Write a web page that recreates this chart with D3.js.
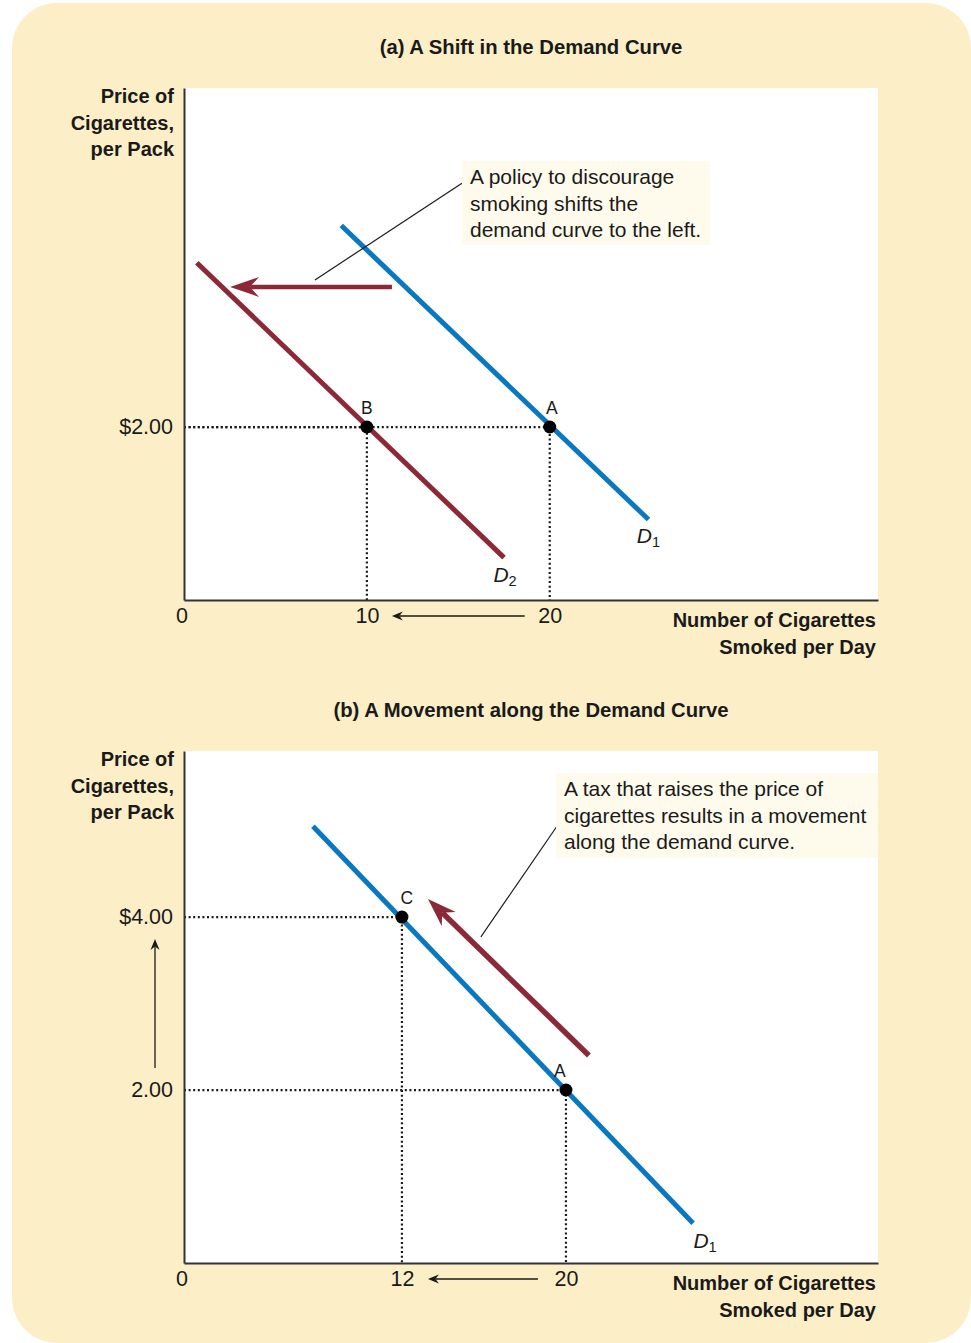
<!DOCTYPE html>
<html><head><meta charset="utf-8">
<script src="https://cdn.jsdelivr.net/npm/d3@7"></script>
<style>body{margin:0;background:#fff;} svg{display:block}</style>
</head><body>
<script>
// ---------- DATA ----------
const titleA = "(a) A Shift in the Demand Curve";
const titleB = "(b) A Movement along the Demand Curve";
const yTitle = ["Price of", "Cigarettes,", "per Pack"];
const xTitle = ["Number of Cigarettes", "Smoked per Day"];
const originLabel = "0";

// panel (a)
const qtyTicksA = [10, 20];
const qtyTickLabelsA = ["10", "20"];
const priceTicksA = [2];
const priceTickLabelsA = ["$2.00"];
const demandA_D1 = [[8.6, 4.33], [25.4, 0.93]];
const demandA_D2 = [[0.7, 3.90], [17.5, 0.49]];
const pointsA = [{name: "B", q: 10, p: 2}, {name: "A", q: 20, p: 2}];
const shiftArrowA = [[11.37, 3.62], [2.52, 3.62]];
const leaderA = [[7.16, 3.70], [15.2, 4.82]];
const noteA = ["A policy to discourage", "smoking shifts the", "demand curve to the left."];
const qtyChangeA = [20, 10];

// panel (b)
const qtyTicksB = [12, 20];
const qtyTickLabelsB = ["12", "20"];
const priceTicksB = [4, 2];
const priceTickLabelsB = ["$4.00", "2.00"];
const demandB_D1 = [[7.66, 5.05], [26.2, 0.46]];
const pointsB = [{name: "C", q: 12, p: 4}, {name: "A", q: 20, p: 2}];
const moveArrowB = [[21.12, 2.40], [13.27, 4.21]];
const leaderB = [[15.85, 3.77], [19.56, 5.05]];
const noteB = ["A tax that raises the price of", "cigarettes results in a movement", "along the demand curve."];
const qtyChangeB = [20, 12];
const priceChangeB = [2, 4];

// ---------- STYLE ----------
const W = 971, H = 1343;
const BG = "#fcefc8", NOTE = "#fefaec", BLUE = "#0a77c2", RED = "#8b2939", INK = "#1a1a1a";
const FONT = "'Liberation Sans', Arial, sans-serif";

const svg = d3.select("body").append("svg").attr("width", W).attr("height", H)
  .style("font-family", FONT);

svg.append("rect").attr("x", 12).attr("y", 3).attr("width", 959).attr("height", 1340)
  .attr("rx", 45).attr("fill", BG);

const line = d3.line();

function arrowHead(g, tip, angle, L, Wd, color) {
  const path = `M0,0 L${-L},${-Wd} L${-L*0.68},0 L${-L},${Wd} Z`;
  g.append("path").attr("d", path).attr("fill", color)
    .attr("transform", `translate(${tip[0]},${tip[1]}) rotate(${angle*180/Math.PI})`);
}
function thinArrow(g, from, to) {
  const ang = Math.atan2(to[1]-from[1], to[0]-from[0]);
  const L = 11, Wd = 4.5;
  const back = [to[0] - Math.cos(ang)*L*0.7, to[1] - Math.sin(ang)*L*0.7];
  g.append("path").attr("d", line([from, back])).attr("stroke", INK).attr("stroke-width", 1.3).attr("fill", "none");
  arrowHead(g, to, ang, L, Wd, INK);
}

function panel(cfg) {
  const g = svg.append("g");
  const x = cfg.x, y = cfg.y;
  const [x0, x1] = x.range(), [y0, y1] = y.range();

  g.append("rect").attr("x", x0).attr("y", y1).attr("width", x1 - x0).attr("height", y0 - y1).attr("fill", "#fff");

  g.append("text").attr("x", 531).attr("y", cfg.titleY).attr("text-anchor", "middle")
    .attr("font-weight", "bold").attr("font-size", 20.3).attr("fill", INK).text(cfg.title);

  cfg.points.forEach(d => {
    g.append("path").attr("d", line([[x0, y(d.p)], [x(d.q), y(d.p)], [x(d.q), y0]]))
      .attr("fill", "none").attr("stroke", INK).attr("stroke-width", 2.2)
      .attr("stroke-dasharray", "2,2.6");
  });

  const xa = d3.axisBottom(x).tickValues(cfg.qtyTicks).tickSize(0).tickSizeOuter(0).tickPadding(8)
    .tickFormat((d, i) => cfg.qtyLabels[i]);
  const ya = d3.axisLeft(y).tickValues(cfg.priceTicks).tickSize(0).tickSizeOuter(0).tickPadding(11)
    .tickFormat((d, i) => cfg.priceLabels[i]);
  const gx = g.append("g").attr("transform", `translate(0,${y0})`).call(xa);
  const gy = g.append("g").attr("transform", `translate(${x0},0)`).call(ya);
  [gx, gy].forEach(a => {
    a.select(".domain").attr("stroke", "#333").attr("stroke-width", 2);
    a.selectAll("text").attr("font-size", 21.5).attr("fill", INK).style("font-family", FONT);
  });
  g.append("text").attr("x", x0 - 2).attr("y", y0 + 23).attr("text-anchor", "middle")
    .attr("font-size", 21.5).attr("fill", INK).text(originLabel);

  cfg.yTitle.forEach((t, i) => g.append("text").attr("x", 174).attr("y", y1 + 15 + i * 26.5)
    .attr("text-anchor", "end").attr("font-weight", "bold").attr("font-size", 20).attr("fill", INK).text(t));
  cfg.xTitle.forEach((t, i) => g.append("text").attr("x", 876).attr("y", y0 + 27 + i * 27)
    .attr("text-anchor", "end").attr("font-weight", "bold").attr("font-size", 20).attr("fill", INK).text(t));

  const qa = cfg.qtyChange;
  thinArrow(g, [x(qa[0]) - cfg.qGap[0], y0 + 16], [x(qa[1]) + cfg.qGap[1], y0 + 16]);
  if (cfg.priceChange) {
    const pc = cfg.priceChange;
    thinArrow(g, [155, y(pc[0]) - 22], [155, y(pc[1]) + 22]);
  }

  cfg.curves.forEach(c => {
    g.append("path").attr("d", line(c.data.map(d => [x(d[0]), y(d[1])])))
      .attr("stroke", c.color).attr("stroke-width", 5).attr("fill", "none");
    const t = g.append("text").attr("x", x(c.data[1][0]) + c.lab[0]).attr("y", y(c.data[1][1]) + c.lab[1])
      .attr("font-size", 21).attr("fill", INK).attr("text-anchor", "middle");
    t.append("tspan").attr("font-style", "italic").text("D");
    t.append("tspan").attr("font-size", 14.5).attr("dy", 4).text(c.sub);
  });

  const ar = cfg.arrow.map(d => [x(d[0]), y(d[1])]);
  const ang = Math.atan2(ar[1][1] - ar[0][1], ar[1][0] - ar[0][0]);
  const back = [ar[1][0] - Math.cos(ang) * 20, ar[1][1] - Math.sin(ang) * 20];
  g.append("path").attr("d", line([ar[0], back])).attr("stroke", RED).attr("stroke-width", cfg.arrowW).attr("fill", "none");
  arrowHead(g, ar[1], ang, 29, 10, RED);

  g.append("path").attr("d", line(cfg.leader.map(d => [x(d[0]), y(d[1])])))
    .attr("stroke", INK).attr("stroke-width", 1.2).attr("fill", "none");

  cfg.points.forEach(d => {
    g.append("circle").attr("cx", x(d.q)).attr("cy", y(d.p)).attr("r", 6.5).attr("fill", "#000");
    g.append("text").attr("x", x(d.q) + d.dx).attr("y", y(d.p) - 13).attr("text-anchor", "middle")
      .attr("font-size", 17.5).attr("fill", INK).text(d.name);
  });

  const nb = cfg.noteBox;
  g.append("rect").attr("x", nb[0]).attr("y", nb[1]).attr("width", nb[2]).attr("height", nb[3]).attr("fill", NOTE);
  cfg.note.forEach((t, i) => g.append("text").attr("x", nb[0] + 8).attr("y", nb[1] + 23 + i * 26.5)
    .attr("font-size", 21).attr("fill", INK).text(t));
}

const xA = d3.scaleLinear().domain([0, 37.95]).range([184, 878]);
const yA = d3.scaleLinear().domain([0, 5.92]).range([600, 88]);
const xB = d3.scaleLinear().domain([1.37, 35.22]).range([184, 878]);
const yB = d3.scaleLinear().domain([0, 5.92]).range([1263, 751]);

panel({
  x: xA, y: yA, title: titleA, titleY: 54, yTitle, xTitle,
  qtyTicks: qtyTicksA, qtyLabels: qtyTickLabelsA, priceTicks: priceTicksA, priceLabels: priceTickLabelsA,
  qtyChange: qtyChangeA, qGap: [25, 25],
  curves: [{data: demandA_D1, color: BLUE, sub: "1", lab: [0, 23]}, {data: demandA_D2, color: RED, sub: "2", lab: [1, 24]}],
  arrow: shiftArrowA, arrowW: 4.5, leader: leaderA,
  points: pointsA.map(d => Object.assign({dx: d.name === "A" ? 2 : 0}, d)),
  noteBox: [462, 161, 248, 84], note: noteA
});
panel({
  x: xB, y: yB, title: titleB, titleY: 717, yTitle, xTitle,
  qtyTicks: qtyTicksB, qtyLabels: qtyTickLabelsB, priceTicks: priceTicksB, priceLabels: priceTickLabelsB,
  qtyChange: qtyChangeB, qGap: [28, 26], priceChange: priceChangeB,
  curves: [{data: demandB_D1, color: BLUE, sub: "1", lab: [12, 25]}],
  arrow: moveArrowB, arrowW: 5.5, leader: leaderB,
  points: pointsB.map(d => Object.assign({dx: d.name === "C" ? 5 : -6}, d)),
  noteBox: [556, 773, 322, 85], note: noteB
});
</script>
</body></html>
